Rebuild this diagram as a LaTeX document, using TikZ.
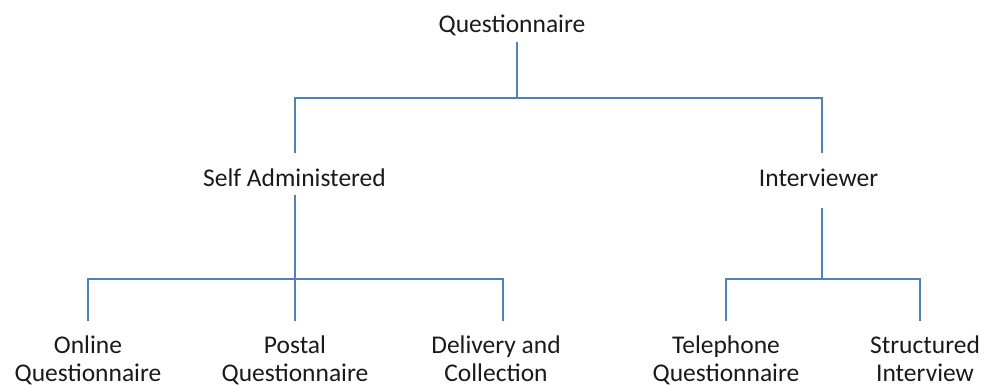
\documentclass[tikz,border=0pt]{standalone}
\usepackage{fontspec}
\setmainfont{Carlito}
\definecolor{linkblue}{HTML}{4F81BD}
\definecolor{txt}{HTML}{1A1A1A}
\tikzset{
  lbl/.style={inner sep=0pt, anchor=base, text=txt, font=\fontsize{25.5}{28}\selectfont, align=center},
  link/.style={draw=linkblue, line width=1.6pt}
}
\begin{document}
\begin{tikzpicture}[x=1pt, y=-1pt]
\useasboundingbox (0,0) rectangle (985,385);
% labels
\node[lbl] (q) at (512,33) {Questionnaire};
\node[lbl] (sa) at (294.5,186) {Self Administered};
\node[lbl] (int) at (818.5,186) {Interviewer};
\node[lbl] (on) at (88,381) {Online\\Questionnaire};
\node[lbl] (po) at (295,381) {Postal\\Questionnaire};
\node[lbl] (de) at (496,381) {Delivery and\\Collection};
\node[lbl] (te) at (726,381) {Telephone\\Questionnaire};
\node[lbl] (st) at (925,381) {Structured\\Interview};
% connector points
\coordinate (qa) at (517,42);
\coordinate (qb) at (517,98);
\coordinate (sat) at (295,153);
\coordinate (intt) at (822,153);
\coordinate (sab) at (295,195);
\coordinate (intb) at (822,208);
\coordinate (ont) at (88,321);
\coordinate (pot) at (295,321);
\coordinate (det) at (503,321);
\coordinate (tet) at (726,321);
\coordinate (stt) at (920,321);
% connectors
\draw[link] (qa) -- (qb);
\draw[link] (sat) |- (qb) -| (intt);
\draw[link] (sab) -- (pot);
\draw[link] (ont) |- (sab |- 0,279) -| (det);
\draw[link] (intb) -- (intb |- 0,279);
\draw[link] (tet) |- (intb |- 0,279) -| (stt);
\end{tikzpicture}
\end{document}
